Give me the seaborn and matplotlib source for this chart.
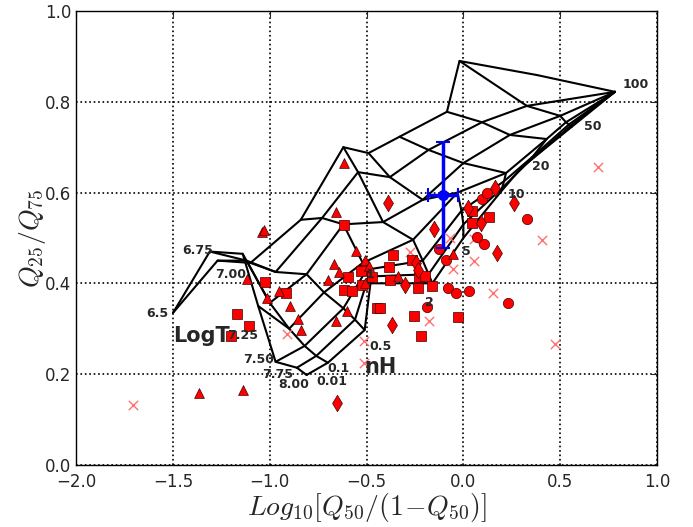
import numpy as np
import pandas as pd
import matplotlib
matplotlib.use('Agg')
import matplotlib.pyplot as plt
import matplotlib.ticker as mticker
import seaborn as sns

sns.set_style('white')
plt.rcParams.update({'font.family': 'DejaVu Sans', 'mathtext.fontset': 'cm'})

# model grid: one row per nH, values for LogT = 6.5, 6.75, 7.00, 7.25, 7.50, 7.75, 8.00
logt_vals = ['6.5', '6.75', '7.00', '7.25', '7.50', '7.75', '8.00']
nh_vals = ['0.01', '0.1', '0.5', '1', '2', '5', '10', '20', '50', '100']
row_001_x = [-1.50, -1.31, -1.14, -1.06, -0.97, -0.86, -0.81]
row_001_y = [0.335, 0.470, 0.465, 0.350, 0.227, 0.214, 0.198]
row_01_x = [-1.27, -1.12, -1.00, -0.90, -0.82, -0.76, -0.70]
row_01_y = [0.450, 0.450, 0.357, 0.300, 0.262, 0.240, 0.225]
row_05_x = [-1.10, -0.97, -0.81, -0.72, -0.62, -0.56, -0.51]
row_05_y = [0.445, 0.425, 0.420, 0.380, 0.345, 0.320, 0.297]
row_1_x = [-0.84, -0.73, -0.62, -0.52, -0.50, -0.49, -0.48]
row_1_y = [0.540, 0.544, 0.530, 0.445, 0.430, 0.415, 0.400]
row_2_x = [-0.62, -0.544, -0.415, -0.26, -0.21, -0.18, -0.16]
row_2_y = [0.700, 0.645, 0.535, 0.496, 0.450, 0.420, 0.400]
row_5_x = [-0.49, -0.38, -0.21, -0.03, -0.01, 0.00, 0.00]
row_5_y = [0.687, 0.634, 0.584, 0.600, 0.560, 0.530, 0.500]
row_10_x = [-0.33, -0.18, 0.00, 0.22, 0.21, 0.20, 0.19]
row_10_y = [0.723, 0.694, 0.665, 0.643, 0.625, 0.610, 0.600]
row_20_x = [-0.085, 0.096, 0.24, 0.43, 0.36, 0.33, 0.30]
row_20_y = [0.778, 0.755, 0.727, 0.718, 0.680, 0.665, 0.655]
row_50_x = [-0.02, 0.328, 0.50, 0.53, 0.545, 0.553, 0.56]
row_50_y = [0.890, 0.791, 0.769, 0.755, 0.750, 0.747, 0.745]
row_100_x = [0.38, 0.783, 0.783, 0.783, 0.783, 0.783, 0.783]
row_100_y = [0.859, 0.822, 0.822, 0.822, 0.822, 0.822, 0.822]

# label positions for grid values
logt_lab_x = [-1.58, -1.37, -1.20, -1.14, -1.06, -0.96, -0.875]
logt_lab_y = [0.333, 0.472, 0.420, 0.285, 0.231, 0.200, 0.176]
nh_lab_x = [-0.68, -0.645, -0.43, -0.485, -0.178, 0.013, 0.275, 0.40, 0.667, 0.89]
nh_lab_y = [0.183, 0.213, 0.260, 0.420, 0.357, 0.470, 0.595, 0.657, 0.745, 0.839]

# observed sources
sq_x = [-1.17, -1.105, -1.20, -1.026, -0.916, -0.618, -0.597, -0.615, -0.577, -0.525,
        -0.52, -0.474, -0.448, -0.43, -0.362, -0.382, -0.267, -0.228, -0.198, -0.233,
        -0.16, -0.379, -0.53, -0.255, -0.217, -0.026, 0.043, 0.132, 0.043]
sq_y = [0.333, 0.306, 0.284, 0.402, 0.378, 0.529, 0.413, 0.385, 0.382, 0.396,
        0.43, 0.413, 0.345, 0.345, 0.463, 0.437, 0.452, 0.413, 0.417, 0.39,
        0.394, 0.407, 0.428, 0.327, 0.284, 0.325, 0.56, 0.546, 0.534]
circ_x = [0.098, 0.124, 0.327, 0.069, 0.108, -0.126, -0.09, -0.081, -0.04, 0.03, 0.232, -0.19]
circ_y = [0.585, 0.598, 0.541, 0.502, 0.487, 0.476, 0.452, 0.39, 0.378, 0.384, 0.357, 0.347]
tri_x = [-1.364, -1.141, -1.04, -1.03, -1.116, -1.016, -0.952, -0.895, -0.852, -0.84,
         -0.658, -0.60, -0.666, -0.64, -0.70, -0.556, -0.51, -0.49, -0.615, -0.66,
         -0.336, -0.055, -0.51]
tri_y = [0.159, 0.164, 0.512, 0.517, 0.409, 0.367, 0.383, 0.350, 0.321, 0.297,
         0.317, 0.339, 0.442, 0.424, 0.407, 0.472, 0.451, 0.438, 0.666, 0.558,
         0.416, 0.465, 0.40]
dia_x = [-0.388, -0.15, 0.025, 0.089, 0.165, 0.263, 0.173, -0.37, -0.245, -0.233, -0.30, -0.651]
dia_y = [0.578, 0.519, 0.565, 0.532, 0.61, 0.576, 0.466, 0.308, 0.444, 0.43, 0.396, 0.136]
crs_x = [-1.707, -0.912, -0.513, -0.513, 0.407, 0.473, 0.151, -0.275, 0.055, -0.055,
         -0.18, -0.07, 0.055, 0.693]
crs_y = [0.131, 0.288, 0.272, 0.224, 0.496, 0.266, 0.378, 0.47, 0.449, 0.431,
         0.318, 0.50, 0.498, 0.656]

# stacked / mean point with errors
mean_x, mean_y = -0.104, 0.595
mean_xerr, mean_yerr = 0.078, 0.117

grid_x = np.array([row_001_x, row_01_x, row_05_x, row_1_x, row_2_x, row_5_x,
                   row_10_x, row_20_x, row_50_x, row_100_x])
grid_y = np.array([row_001_y, row_01_y, row_05_y, row_1_y, row_2_y, row_5_y,
                   row_10_y, row_20_y, row_50_y, row_100_y])

fig, ax = plt.subplots(figsize=(6.93, 5.27), dpi=100)
fig.subplots_adjust(left=0.110, right=0.948, top=0.979, bottom=0.118)

for i in range(grid_x.shape[0]):
    ax.plot(grid_x[i], grid_y[i], color='black', lw=1.5, zorder=2)
for j in range(grid_x.shape[1]):
    ax.plot(grid_x[:, j], grid_y[:, j], color='black', lw=1.5, zorder=2)

for lab, x, y in zip(logt_vals, logt_lab_x, logt_lab_y):
    ax.text(x, y, lab, fontsize=9, fontweight='bold', ha='center', va='center', zorder=5)
for lab, x, y in zip(nh_vals, nh_lab_x, nh_lab_y):
    ax.text(x, y, lab, fontsize=9, fontweight='bold', ha='center', va='center', zorder=5)
ax.text(-1.50, 0.284, 'LogT', fontsize=15, fontweight='bold', ha='left', va='center', zorder=5)
ax.text(-0.43, 0.216, 'nH', fontsize=15, fontweight='bold', ha='center', va='center', zorder=5)

sq = pd.DataFrame({'x': sq_x, 'y': sq_y})
ci = pd.DataFrame({'x': circ_x, 'y': circ_y})
tr = pd.DataFrame({'x': tri_x, 'y': tri_y})
di = pd.DataFrame({'x': dia_x, 'y': dia_y})
cr = pd.DataFrame({'x': crs_x, 'y': crs_y})

kw = dict(color='red', edgecolor='#400000', linewidth=0.5, zorder=4, ax=ax, legend=False)
sns.scatterplot(data=sq, x='x', y='y', marker='s', s=50, **kw)
sns.scatterplot(data=ci, x='x', y='y', marker='o', s=55, **kw)
sns.scatterplot(data=tr, x='x', y='y', marker='^', s=50, **kw)
sns.scatterplot(data=di, x='x', y='y', marker='d', s=70, **kw)
sns.scatterplot(data=cr, x='x', y='y', marker='x', s=45, color='#ff7070',
                linewidth=1.0, zorder=3, ax=ax, legend=False)

ax.errorbar(mean_x, mean_y, xerr=mean_xerr, yerr=mean_yerr, fmt='o', color='blue',
            ms=7, elinewidth=2.5, capsize=5, capthick=1.5, zorder=6)

ax.set_xlim(-2.0, 1.0)
ax.set_ylim(0.0, 1.0)
ax.set_xticks(np.arange(-2.0, 1.01, 0.5))
ax.set_yticks(np.arange(0.0, 1.01, 0.2))
fmt = mticker.FuncFormatter(lambda v, _: f'{v:.1f}'.replace('-', '\u2212'))
ax.xaxis.set_major_formatter(fmt)
ax.yaxis.set_major_formatter(fmt)
ax.tick_params(labelsize=12, direction='in', length=4, top=True, right=True)
ax.tick_params(axis='x', pad=6)
ax.grid(True, color='black', linestyle=':', linewidth=1.2)
for sp in ax.spines.values():
    sp.set_color('black')
    sp.set_linewidth(1.0)

ax.set_xlabel(r'$Log_{10}[Q_{50}/(1\!-\!Q_{50})]$', fontsize=20, labelpad=0)
ax.set_ylabel(r'$Q_{25}/Q_{75}$', fontsize=20, labelpad=-2)

plt.savefig('out.png', dpi=100)
plt.close()
